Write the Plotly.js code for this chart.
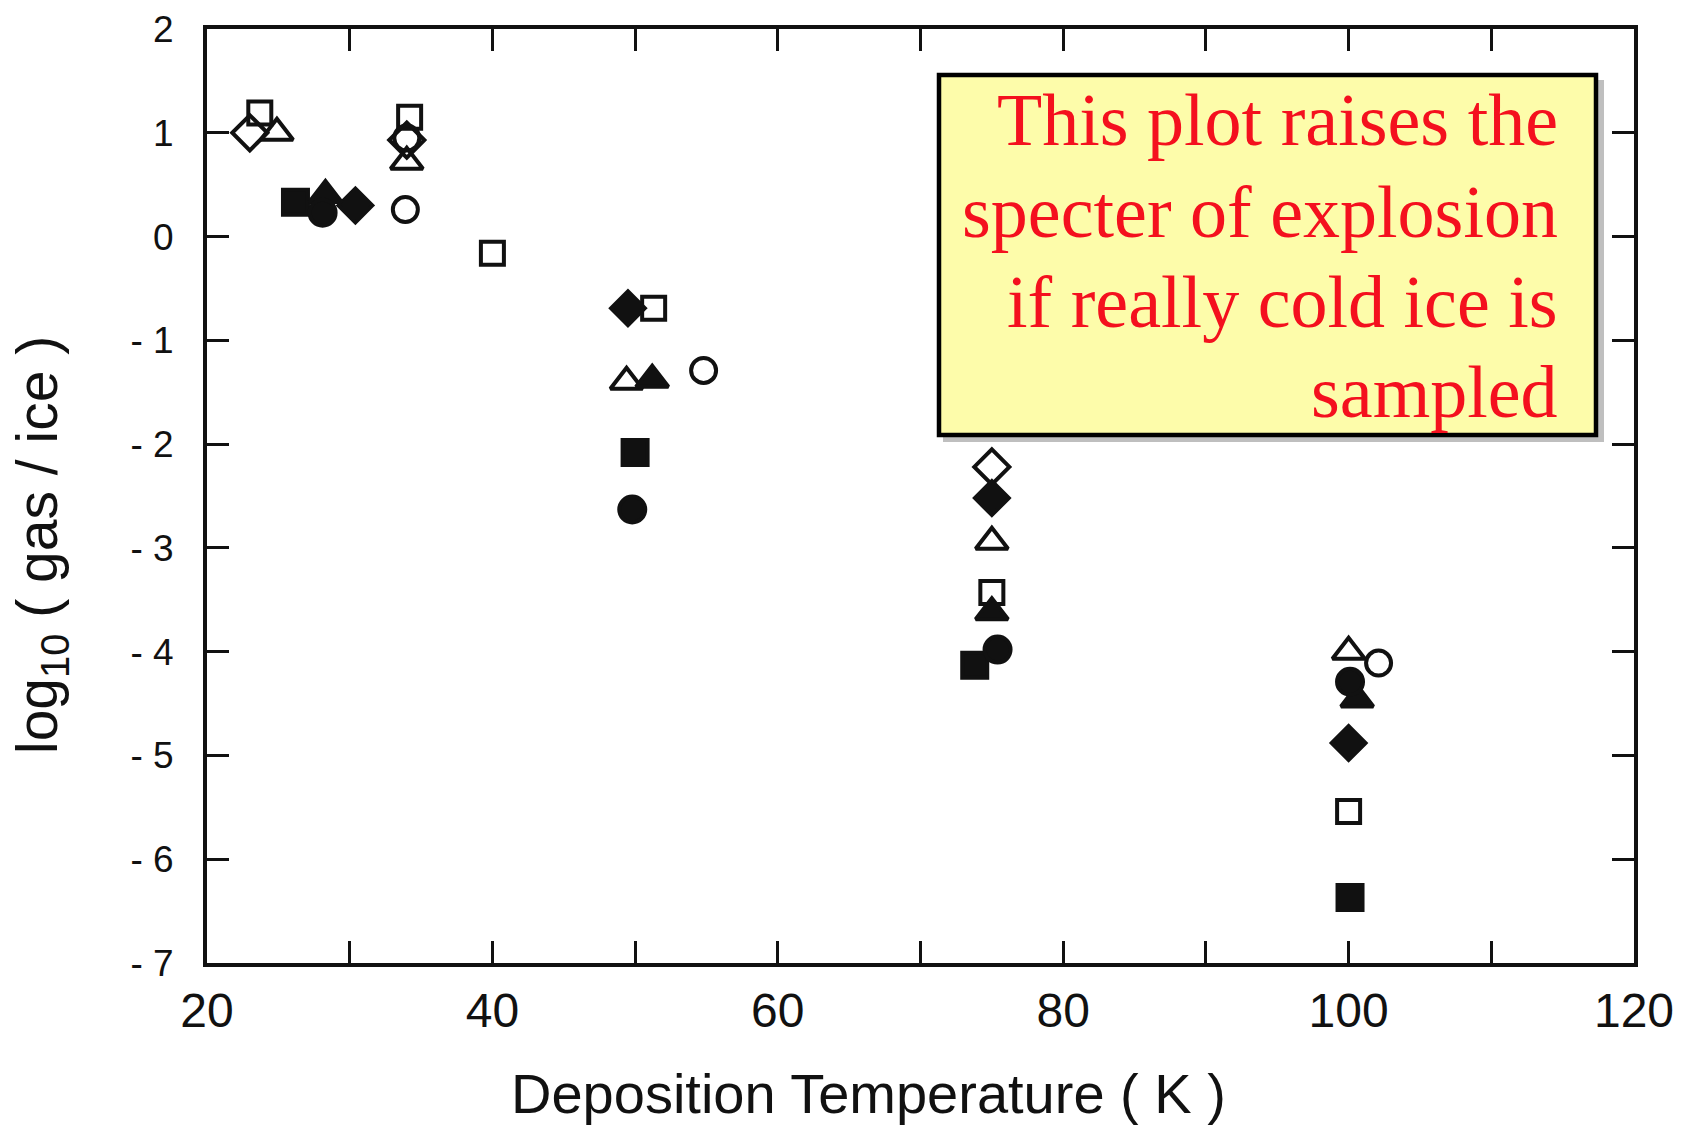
<!DOCTYPE html>
<html>
<head>
<meta charset="utf-8">
<script src="https://cdn.plot.ly/plotly-3.0.1.min.js"></script>
<style>html,body{margin:0;padding:0;background:#fff;}#chart{width:1683px;height:1126px;}</style>
</head>
<body>
<div id="chart"></div>
<script>
// ---- data ----
const xTickVals = [20, 40, 60, 80, 100, 120];
const xTickText = ["20", "40", "60", "80", "100", "120"];
const yTickVals = [-7, -6, -5, -4, -3, -2, -1, 0, 1, 2];
const yTickText = ["- 7", "- 6", "- 5", "- 4", "- 3", "- 2", "- 1", "0", "1", "2"];

const openDiamondT = [23.0, 34.0, 75.0];
const openDiamondV = [1.00, 0.93, -2.22];
const filledDiamondT = [30.4, 49.5, 75.0, 100.0];
const filledDiamondV = [0.30, -0.69, -2.52, -4.88];
const openSquareT = [23.7, 34.2, 40.0, 51.3, 75.0, 100.0];
const openSquareV = [1.19, 1.15, -0.16, -0.69, -3.43, -5.54];
const filledSquareT = [26.2, 50.0, 73.8, 100.1];
const filledSquareV = [0.33, -2.08, -4.13, -6.37];
const openTriangleT = [24.9, 34.0, 49.4, 75.0, 100.0];
const openTriangleV = [1.00, 0.72, -1.40, -2.94, -4.00];
const filledTriangleT = [28.3, 51.2, 75.0, 100.6];
const filledTriangleV = [0.40, -1.38, -3.62, -4.46];
const openCircleT = [34.0, 33.9, 54.8, 102.1];
const openCircleV = [0.95, 0.26, -1.29, -4.11];
const filledCircleT = [28.1, 49.8, 75.4, 100.1];
const filledCircleV = [0.23, -2.63, -3.98, -4.29];

const noteLines = ["This plot raises the", "specter of explosion", "if really cold ice is", "sampled"];
const xTitle = "Deposition Temperature ( K )";
const yTitle = "log<sub>10</sub> ( gas / ice )";

// ---- geometry helpers (plot area in pixels) ----
const W = 1683, H = 1126;
const PL = 207, PR = 1634, PT = 29, PB = 963;
const px = x => (x - PL) / (PR - PL);
const py = y => 1 - (y - PT) / (PB - PT);

const ink = "#111111";
const series = [
  {t: openSquareT, v: openSquareV, symbol: "square-open", size: 23},
  {t: openDiamondT, v: openDiamondV, symbol: "diamond-open", size: 27},
  {t: openTriangleT, v: openTriangleV, symbol: "triangle-up-open", size: 28},
  {t: openCircleT, v: openCircleV, symbol: "circle-open", size: 25},
  {t: filledSquareT, v: filledSquareV, symbol: "square", size: 25},
  {t: filledDiamondT, v: filledDiamondV, symbol: "diamond", size: 26},
  {t: filledTriangleT, v: filledTriangleV, symbol: "triangle-up", size: 28},
  {t: filledCircleT, v: filledCircleV, symbol: "circle", size: 26}
];

const traces = series.map(s => ({
  type: "scatter",
  mode: "markers",
  x: s.t,
  y: s.v,
  showlegend: false,
  hoverinfo: "x+y",
  marker: {
    symbol: s.symbol,
    size: s.size,
    color: ink,
    line: {color: ink, width: 4}
  }
}));

const noteBaselines = [145, 237, 327, 417];
const noteSize = 74;
const noteAnn = noteLines.map((line, i) => ({
  xref: "paper", yref: "paper",
  x: px(1558), y: py(noteBaselines[i] - 0.3375 * noteSize),
  xanchor: "right", yanchor: "middle",
  text: line, showarrow: false,
  borderpad: 0, borderwidth: 0,
  font: {family: "Liberation Serif, 'Times New Roman', serif", size: noteSize, color: "#f4101e"}
}));

const axisFont = "Liberation Sans, Arial, Helvetica, sans-serif";
const layout = {
  width: W, height: H,
  paper_bgcolor: "#ffffff",
  plot_bgcolor: "#ffffff",
  margin: {l: PL, r: W - PR, t: PT, b: H - PB, pad: 0},
  showlegend: false,
  xaxis: {
    range: [20, 120],
    tickmode: "array",
    tickvals: xTickVals,
    ticktext: xTickText,
    ticks: "inside",
    ticklen: 22,
    tickwidth: 3,
    tickcolor: ink,
    minor: {dtick: 10, tick0: 20, ticks: "inside", ticklen: 22, tickwidth: 3, tickcolor: ink, showgrid: false},
    showline: true,
    linewidth: 4,
    linecolor: ink,
    mirror: "ticks",
    showgrid: false,
    zeroline: false,
    ticklabelstandoff: 2,
    tickfont: {family: axisFont, size: 48, color: ink}
  },
  yaxis: {
    range: [-7, 2],
    tickmode: "array",
    tickvals: yTickVals,
    ticktext: yTickText,
    ticks: "inside",
    ticklen: 22,
    tickwidth: 3,
    tickcolor: ink,
    showline: true,
    linewidth: 4,
    linecolor: ink,
    mirror: "ticks",
    showgrid: false,
    zeroline: false,
    ticklabelstandoff: 22,
    tickfont: {family: axisFont, size: 37, color: ink}
  },
  shapes: [
    {type: "rect", xref: "paper", yref: "paper",
     x0: px(943), x1: px(1604), y0: py(442), y1: py(80),
     fillcolor: "rgba(0,0,0,0.25)", line: {width: 0}, layer: "above"},
    {type: "rect", xref: "paper", yref: "paper",
     x0: px(939), x1: px(1596), y0: py(435), y1: py(75),
     fillcolor: "#fdfcaa", line: {color: "#000000", width: 4.5}, layer: "above"}
  ],
  annotations: [
    ...noteAnn,
    {xref: "paper", yref: "paper", x: px(868), y: py(1093),
     xanchor: "center", yanchor: "middle", showarrow: false,
     text: xTitle, font: {family: axisFont, size: 56, color: ink}},
    {xref: "paper", yref: "paper", x: px(41), y: py(545),
     xanchor: "center", yanchor: "middle", showarrow: false, textangle: -90,
     text: yTitle, font: {family: axisFont, size: 57, color: ink}}
  ]
};

Plotly.newPlot("chart", traces, layout, {displayModeBar: false, staticPlot: true});
</script>
</body>
</html>
